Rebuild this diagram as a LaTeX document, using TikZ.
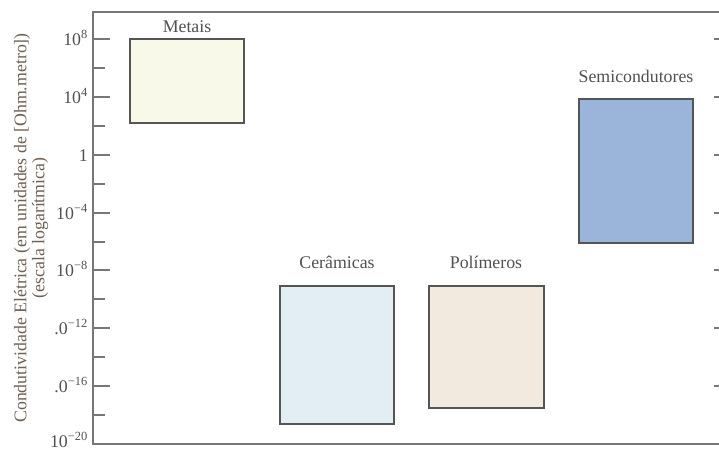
\documentclass[tikz,border=0pt]{standalone}
\usepackage{fontspec}
\setmainfont{Liberation Serif}
\definecolor{axisgray}{HTML}{777777}
\definecolor{boxedge}{HTML}{555555}
\definecolor{labelgray}{HTML}{505050}
\definecolor{titlebrown}{HTML}{6E6052}
\definecolor{metalfill}{HTML}{F9F9E9}
\definecolor{ceramfill}{HTML}{E3EDF4}
\definecolor{polyfill}{HTML}{F2EADF}
\definecolor{semifill}{HTML}{9BB5DA}
\begin{document}
\begin{tikzpicture}[x=1pt,y=-1pt,
  axisline/.style={draw=axisgray, line width=2pt},
  tickline/.style={draw=axisgray, line width=2pt},
  matbox/.style={draw=boxedge, line width=1.5pt, inner sep=0pt, rectangle},
  boxlabel/.style={text=labelgray, anchor=base, inner sep=0pt,
    font=\fontsize{17.8}{20}\selectfont},
  ticklabel/.style={text=labelgray, anchor=base east, inner sep=0pt,
    font=\fontsize{17.8}{20}\selectfont},
  axistitle/.style={text=titlebrown, rotate=90, align=center, inner sep=0pt,
    font=\fontsize{17.8}{18}\selectfont}]
\useasboundingbox (0,0) rectangle (719,450);

% frame of the plot
\coordinate (tl) at (93,12);
\coordinate (tr) at (721,12);
\coordinate (bl) at (93,444);
\coordinate (br) at (721,444);
\draw[axisline] (tr) -- (tl) -- (bl) -- (br);

% decade ticks: major every 4 decades, minor halfway between
\foreach \k in {0,...,6} {
  \pgfmathsetmacro{\ty}{39+\k*57.86}
  \draw[tickline] (93,\ty) -- (110,\ty);
  \draw[tickline] (714,\ty) -- (721,\ty);
  \pgfmathsetmacro{\my}{\ty+28.93}
  \draw[tickline] (93,\my) -- (105,\my);
}

% tick labels
\node[ticklabel] (t8)  at (88,45)  {10\textsuperscript{8}};
\node[ticklabel] (t4)  at (88,103) {10\textsuperscript{4}};
\node[ticklabel] (t0)  at (88,161) {1};
\node[ticklabel] (tm4) at (88,219) {10\textsuperscript{−4}};
\node[ticklabel] (tm8) at (88,276) {10\textsuperscript{−8}};
\node[ticklabel] (tm12) at (88,334) {.0\textsuperscript{−12}};
\node[ticklabel] (tm16) at (88,392) {.0\textsuperscript{−16}};
\node[ticklabel] (tm20) at (88,447) {10\textsuperscript{−20}};

% axis title
\node[axistitle] (ytitle) at (31,228)
  {Condutividade Elétrica (em unidades de [Ohm.metro])\\(escala logarítmica)};

% material ranges
\node[matbox, fill=metalfill, minimum width=114pt, minimum height=84pt]
  (metais) at (187,81) {};
\node[matbox, fill=ceramfill, minimum width=114pt, minimum height=138pt]
  (ceram) at (337,355) {};
\node[matbox, fill=polyfill, minimum width=115pt, minimum height=122pt]
  (poli) at (486.5,347) {};
\node[matbox, fill=semifill, minimum width=114pt, minimum height=144pt]
  (semi) at (636,171) {};

% material names
\node[boxlabel] (lmetais) at (187,32)  {Metais};
\node[boxlabel] (lceram)  at (337,268) {Cerâmicas};
\node[boxlabel] (lpoli)   at (486,268) {Polímeros};
\node[boxlabel] (lsemi)   at (636,82)  {Semicondutores};
\end{tikzpicture}
\end{document}
